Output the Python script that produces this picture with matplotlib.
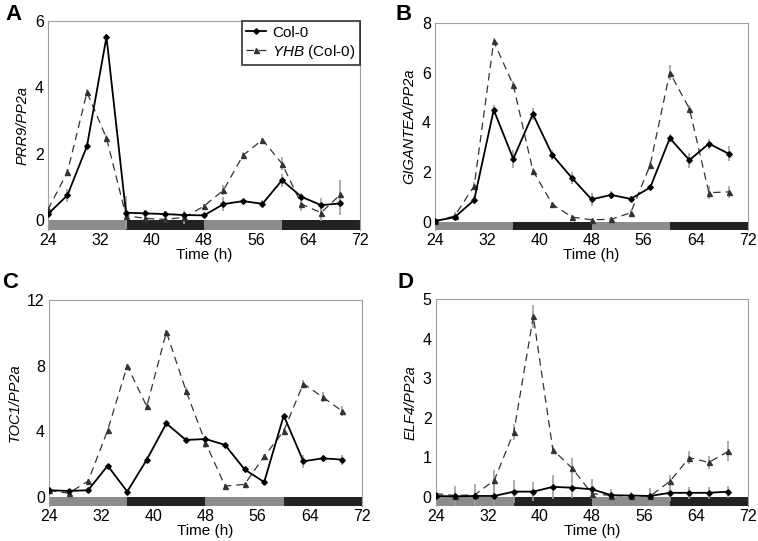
import numpy as np
import matplotlib
matplotlib.use("Agg")
import matplotlib.pyplot as plt

plt.rcParams['font.family'] = ['Liberation Sans', 'DejaVu Sans']
plt.rcParams['mathtext.fontset'] = 'custom'
plt.rcParams['mathtext.rm'] = 'Liberation Sans'
plt.rcParams['mathtext.it'] = 'Liberation Sans:italic'

# ---------------------------------------------------------------
# Data
# ---------------------------------------------------------------

time = [24, 27, 30, 33, 36, 39, 42, 45, 48, 51, 54, 57, 60, 63, 66, 69]

# light / dark periods shown as the bar under each panel
periods = [(24, 36), (36, 48), (48, 60), (60, 72)]
period_colors = ['#8c8c8c', '#222222', '#8c8c8c', '#222222']

prr9_col = [0.18, 0.75, 2.23, 5.52, 0.22, 0.20, 0.18, 0.15, 0.14, 0.48, 0.57, 0.49, 1.20, 0.70, 0.45, 0.50]
prr9_col_err = [0.05, 0.2, 0.1, 0.1, 0.5, 0.1, 0.1, 0.1, 0.05, 0.2, 0.05, 0.1, 0.2, 0.1, 0.2, 0.35]
prr9_yhb = [0.32, 1.45, 3.85, 2.47, 0.13, 0.05, 0.02, 0.08, 0.42, 0.90, 1.95, 2.42, 1.70, 0.48, 0.22, 0.77]
prr9_yhb_err = [0.05, 0.1, 0.1, 0.1, 0.3, 0.1, 0.05, 0.2, 0.05, 0.15, 0.1, 0.05, 0.2, 0.2, 0.25, 0.45]

gi_col = [0.03, 0.18, 0.87, 4.50, 2.53, 4.33, 2.68, 1.76, 0.90, 1.08, 0.92, 1.38, 3.36, 2.48, 3.14, 2.74]
gi_col_err = [0.05, 0.1, 0.15, 0.2, 0.35, 0.25, 0.2, 0.25, 0.25, 0.15, 0.1, 0.1, 0.15, 0.3, 0.2, 0.3]
gi_yhb = [0.03, 0.23, 1.44, 7.25, 5.50, 2.06, 0.70, 0.19, 0.08, 0.10, 0.36, 2.29, 6.00, 4.55, 1.17, 1.20]
gi_yhb_err = [0.05, 0.15, 0.15, 0.15, 0.15, 0.1, 0.05, 0.1, 0.05, 0.1, 0.1, 0.1, 0.3, 0.15, 0.25, 0.25]

toc1_col = [0.40, 0.36, 0.40, 1.90, 0.32, 2.27, 4.48, 3.47, 3.53, 3.17, 1.67, 0.90, 4.96, 2.17, 2.35, 2.27]
toc1_col_err = [0.1, 0.1, 0.1, 0.1, 0.1, 0.2, 0.1, 0.2, 0.2, 0.1, 0.1, 0.1, 0.1, 0.4, 0.2, 0.3]
toc1_yhb = [0.40, 0.22, 0.96, 4.06, 7.99, 5.52, 10.06, 6.49, 3.31, 0.66, 0.76, 2.47, 4.02, 6.91, 6.08, 5.22]
toc1_yhb_err = [0.1, 0.2, 0.1, 0.1, 0.1, 0.2, 0.1, 0.2, 0.3, 0.1, 0.1, 0.1, 0.2, 0.2, 0.3, 0.3]

elf4_col = [0.02, 0.01, 0.02, 0.02, 0.13, 0.13, 0.25, 0.23, 0.19, 0.04, 0.03, 0.02, 0.10, 0.10, 0.10, 0.13]
elf4_col_err = [0.3, 0.25, 0.3, 0.3, 0.3, 0.25, 0.3, 0.25, 0.25, 0.15, 0.1, 0.2, 0.2, 0.15, 0.15, 0.15]
elf4_yhb = [0.08, 0.03, 0.05, 0.42, 1.64, 4.57, 1.19, 0.72, 0.08, 0.03, 0.02, 0.02, 0.39, 0.99, 0.87, 1.15]
elf4_yhb_err = [0.1, 0.1, 0.1, 0.25, 0.2, 0.3, 0.1, 0.25, 0.1, 0.05, 0.05, 0.05, 0.15, 0.17, 0.17, 0.25]

# ---------------------------------------------------------------
# Plotting
# ---------------------------------------------------------------

def draw_panel(ax, col, col_err, yhb, yhb_err, ylabel, ymin, ymax, yticks, legend=False):
    ax.errorbar(time, col, yerr=col_err, fmt='none', ecolor='#a0a0a0', elinewidth=1.2, zorder=2)
    ax.errorbar(time, yhb, yerr=yhb_err, fmt='none', ecolor='#a0a0a0', elinewidth=1.2, zorder=2)
    ax.plot(time, col, '-', color='black', lw=1.3, marker='D', ms=2.8, zorder=4, label='Col-0')
    ax.plot(time, yhb, '--', color='#333333', lw=0.9, dashes=(6, 4), marker='^', ms=3.6,
            zorder=3, label=r'$\it{YHB}$ (Col-0)')

    # light / dark bar below zero
    for (t0, t1), c in zip(periods, period_colors):
        ax.bar(t0, 0 - ymin, width=t1 - t0, bottom=ymin, align='edge', color=c, lw=0, zorder=1)

    ax.set_xlim(24, 72)
    ax.set_ylim(ymin, ymax)
    ax.set_xticks(range(24, 73, 8))
    ax.set_yticks(yticks)
    ax.tick_params(length=0, labelsize=11.5, pad=3)
    ax.tick_params(axis='x', pad=2)
    for s in ['left', 'top', 'right']:
        ax.spines[s].set_color('#a0a0a0')
    ax.spines['bottom'].set_visible(False)
    ax.set_xlabel('Time (h)', fontsize=11, labelpad=0)
    ax.set_ylabel(ylabel, fontsize=10.5, fontstyle='italic', labelpad=4)
    if legend:
        leg = ax.legend(loc='upper right', fontsize=11, frameon=True, fancybox=False,
                        borderaxespad=0.0, handlelength=1.3, handletextpad=0.4,
                        borderpad=0.3, labelspacing=0.2)
        leg.get_frame().set_edgecolor('black')
        leg.get_frame().set_linewidth(1.2)


fig = plt.figure(figsize=(7.58, 5.41), dpi=100)

axA = fig.add_axes([0.0633, 0.5749, 0.4116, 0.3863])
axB = fig.add_axes([0.5739, 0.5749, 0.4130, 0.3830])
axC = fig.add_axes([0.0646, 0.0650, 0.4130, 0.3800])
axD = fig.add_axes([0.5750, 0.0650, 0.4116, 0.3816])

draw_panel(axA, prr9_col, prr9_col_err, prr9_yhb, prr9_yhb_err, 'PRR9/PP2a',
           -0.3, 6, [0, 2, 4, 6], legend=True)
draw_panel(axB, gi_col, gi_col_err, gi_yhb, gi_yhb_err, 'GIGANTEA/PP2a',
           -0.33, 8, [0, 2, 4, 6, 8])
draw_panel(axC, toc1_col, toc1_col_err, toc1_yhb, toc1_yhb_err, 'TOC1/PP2a',
           -0.55, 12, [0, 4, 8, 12])
draw_panel(axD, elf4_col, elf4_col_err, elf4_yhb, elf4_yhb_err, 'ELF4/PP2a',
           -0.23, 5, [0, 1, 2, 3, 4, 5])

# panel letters
for letter, x, y in [('A', 14, 4), ('B', 404, 4), ('C', 10, 272), ('D', 405, 272)]:
    fig.text(x / 758, 1 - y / 541, letter, fontsize=16, fontweight='bold',
             ha='center', va='top')

fig.savefig('out.png', dpi=100)
